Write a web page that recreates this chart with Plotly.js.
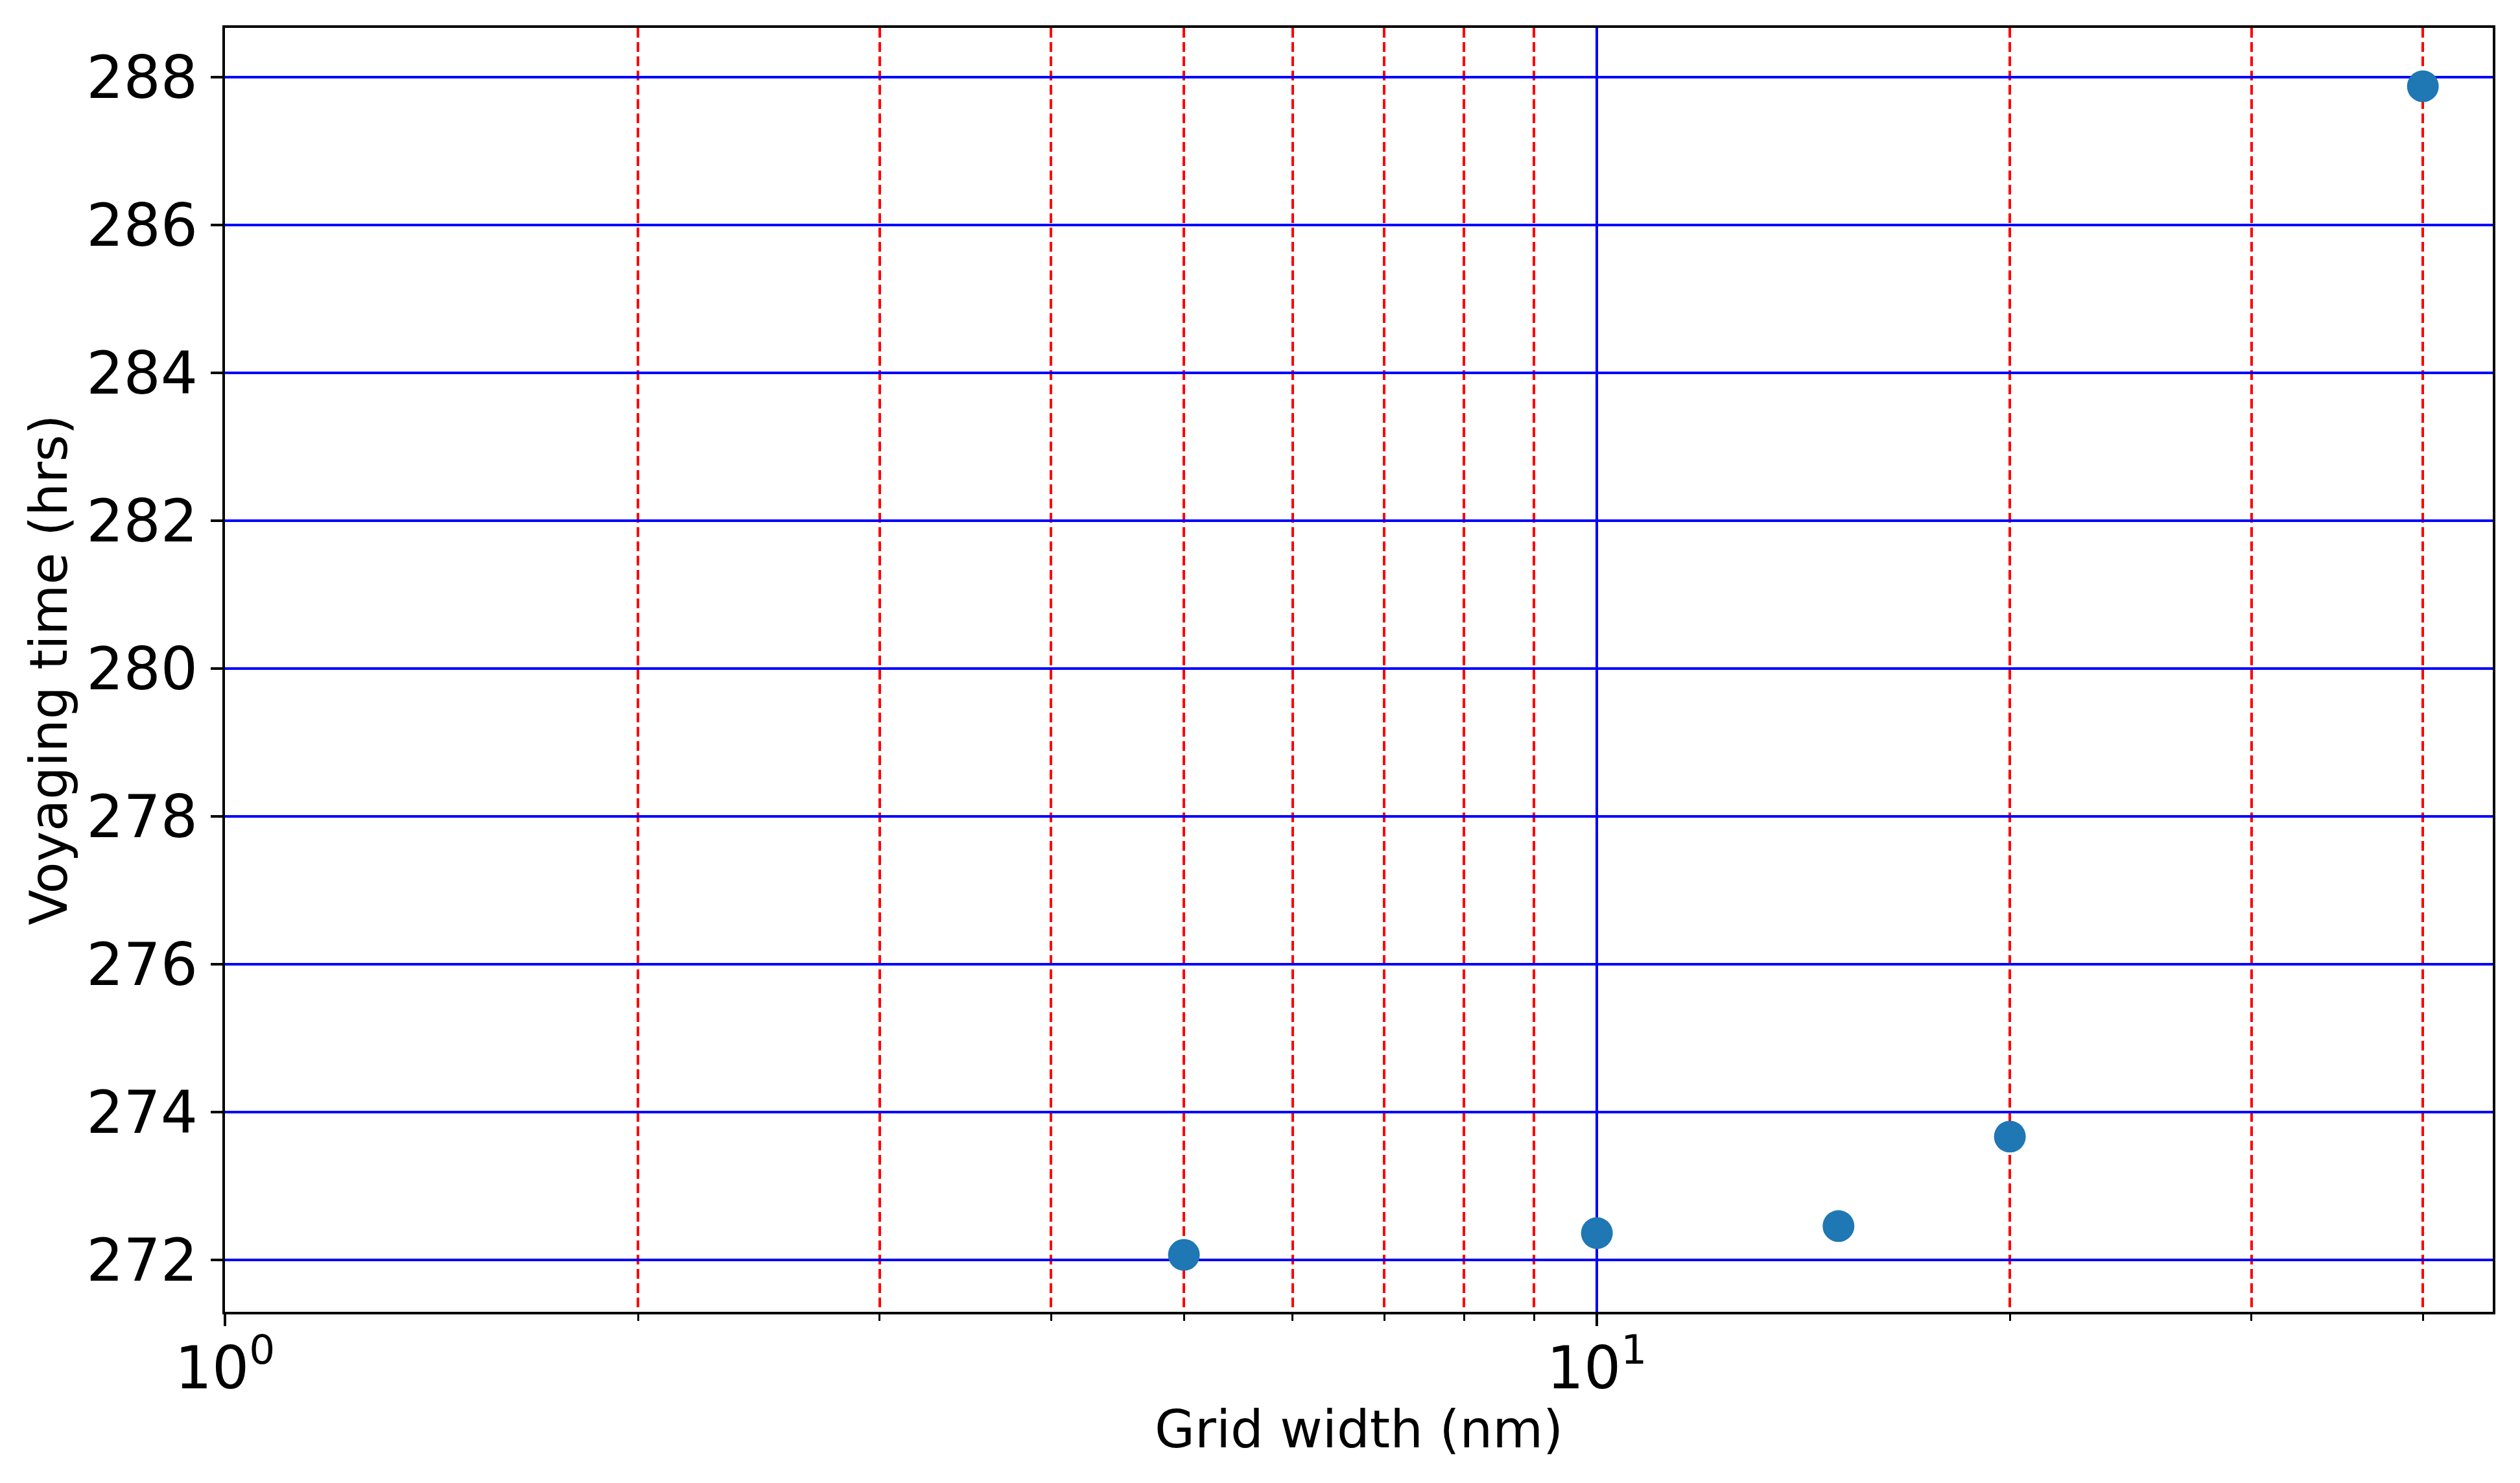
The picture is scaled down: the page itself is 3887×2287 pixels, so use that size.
<!DOCTYPE html>
<html>
<head>
<meta charset="utf-8">
<script src="https://cdn.plot.ly/plotly-3.0.1.min.js"></script>
<style>
  html, body { margin: 0; padding: 0; background: #fff; }
  #myPlot { width: 3887px; height: 2287px; }
</style>
</head>
<body>
<div id="myPlot"></div>
<script>
// grid width (nm) vs voyaging time (hrs)
var gridWidth = [5, 10, 15, 20, 40];
var voyageTime = [272.07, 272.365, 272.46, 273.67, 287.88];

// tick labels / minor grid positions
var xMajorVals = [1, 10];
var xMajorText = ['10<sup>0</sup>', '10<sup>1</sup>'];
var xMinorVals = [2, 3, 4, 5, 6, 7, 8, 9, 20, 30, 40];
var yTickVals = [272, 274, 276, 278, 280, 282, 284, 286, 288];

var trace1 = {
  x: gridWidth,
  y: voyageTime,
  mode: 'markers',
  type: 'scatter',
  marker: {color: '#1f77b4', size: 49, line: {width: 0}},
  hoverinfo: 'skip'
};

var tickFont = {family: 'DejaVu Sans', size: 90, color: '#000'};
var titleFont = {family: 'DejaVu Sans', size: 80, color: '#000'};

var layout = {
  width: 3887,
  height: 2287,
  margin: {l: 347, r: 42, t: 43, b: 264, pad: 0},
  paper_bgcolor: '#fff',
  plot_bgcolor: '#fff',
  showlegend: false,
  xaxis: {
    type: 'log',
    range: [0, 1.653],
    autorange: false,
    tickmode: 'array',
    tickvals: xMajorVals,
    ticktext: xMajorText,
    tickfont: tickFont,
    ticks: 'outside',
    ticklen: 18,
    tickwidth: 4,
    tickcolor: '#000',
    ticklabelstandoff: -12,
    showline: true,
    linecolor: '#000',
    linewidth: 4,
    mirror: true,
    showgrid: true,
    gridcolor: 'blue',
    gridwidth: 4,
    zeroline: false,
    minor: {
      tickmode: 'array',
      tickvals: xMinorVals,
      ticks: 'outside',
      ticklen: 10,
      tickwidth: 3,
      tickcolor: '#000',
      showgrid: true,
      gridcolor: 'red',
      gridwidth: 4,
      griddash: '15px,7px'
    },
    automargin: false
  },
  yaxis: {
    range: [271.30, 288.67],
    autorange: false,
    tickmode: 'array',
    tickvals: yTickVals,
    tickfont: tickFont,
    ticks: 'outside',
    ticklen: 18,
    tickwidth: 4,
    tickcolor: '#000',
    ticklabelstandoff: 2,
    showline: true,
    linecolor: '#000',
    linewidth: 4,
    mirror: true,
    showgrid: true,
    gridcolor: 'blue',
    gridwidth: 4,
    zeroline: false,
    title: {text: 'Voyaging time (hrs)', font: titleFont, standoff: 4},
    automargin: false
  },
  // x axis title as annotation so it sits close to the tick labels
  annotations: [{
    text: 'Grid width (nm)',
    font: titleFont,
    xref: 'paper', yref: 'paper',
    x: 0.5, y: 0,
    xanchor: 'center', yanchor: 'middle',
    yshift: -181,
    showarrow: false
  }]
};

Plotly.newPlot('myPlot', [trace1], layout, {staticPlot: true, displayModeBar: false});
</script>
</body>
</html>
